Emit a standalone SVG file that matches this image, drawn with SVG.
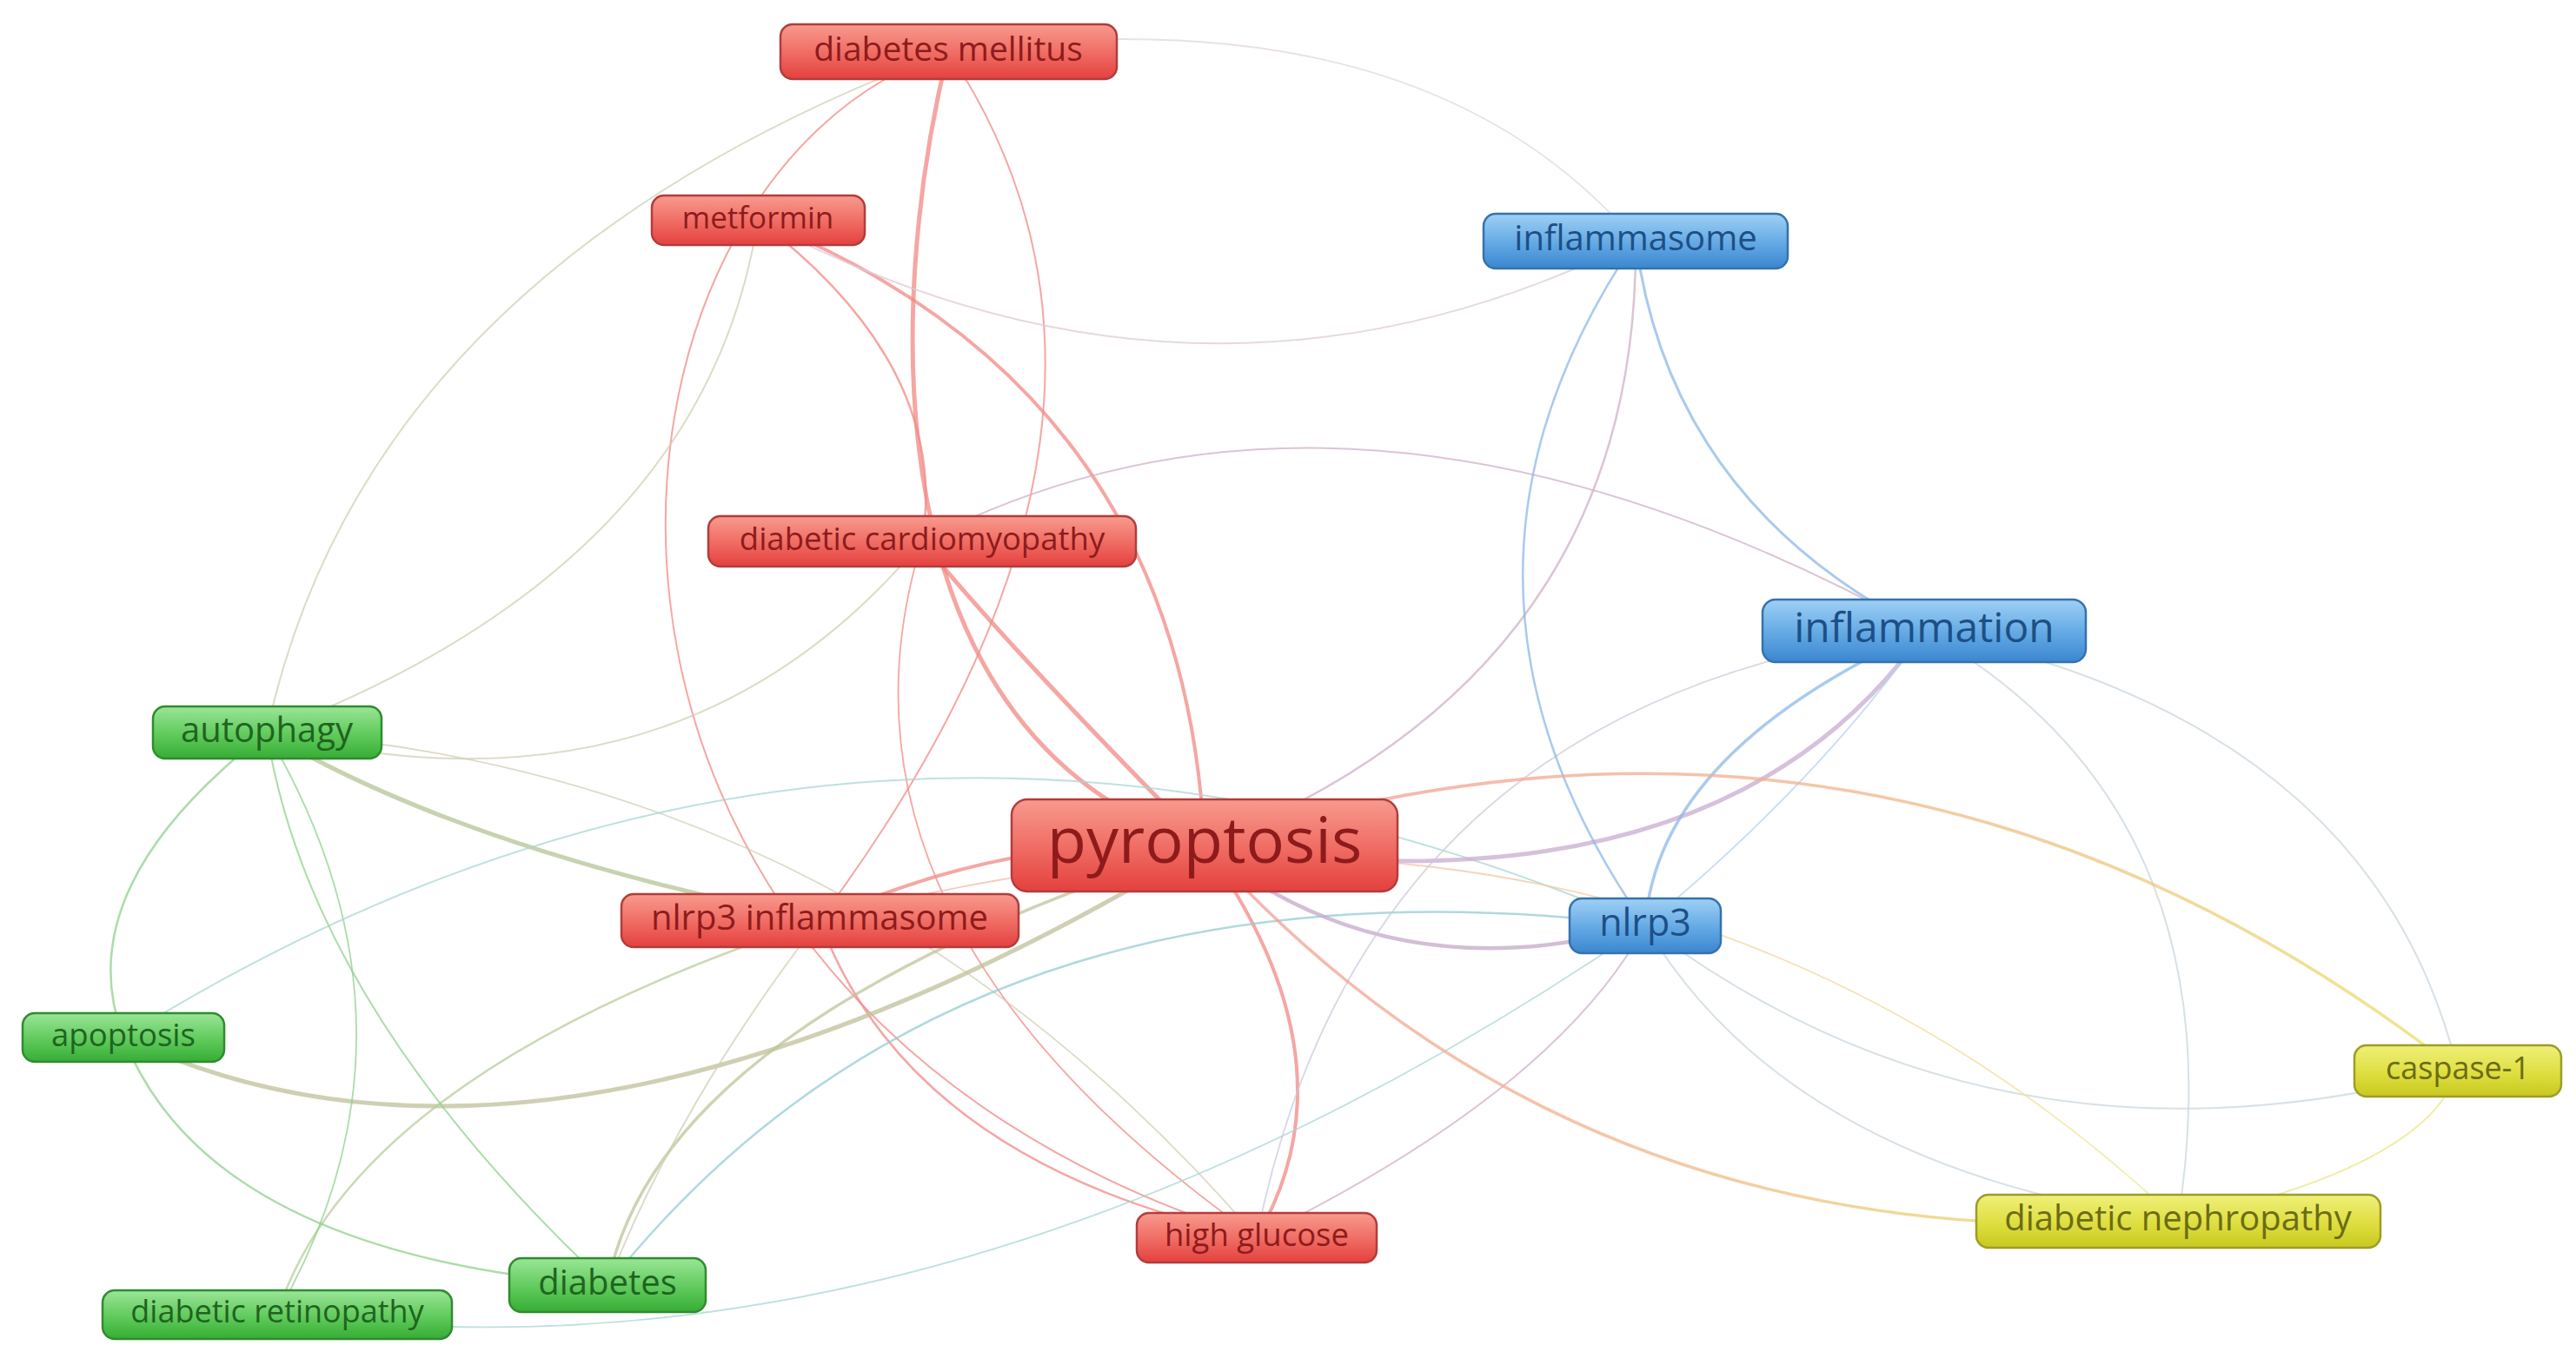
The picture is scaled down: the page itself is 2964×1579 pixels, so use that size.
<svg xmlns="http://www.w3.org/2000/svg" width="2964" height="1579" viewBox="0 0 2964 1579">
<defs>
<linearGradient id="gRed" x1="0" y1="0" x2="0" y2="1"><stop offset="0" stop-color="#f89a8e"/><stop offset="0.55" stop-color="#ef6a62"/><stop offset="1" stop-color="#e4403e"/></linearGradient>
<linearGradient id="gBlue" x1="0" y1="0" x2="0" y2="1"><stop offset="0" stop-color="#9fd0f5"/><stop offset="0.55" stop-color="#62a8e4"/><stop offset="1" stop-color="#3a86cf"/></linearGradient>
<linearGradient id="gGreen" x1="0" y1="0" x2="0" y2="1"><stop offset="0" stop-color="#9be597"/><stop offset="0.55" stop-color="#5fca5b"/><stop offset="1" stop-color="#36ad35"/></linearGradient>
<linearGradient id="gYellow" x1="0" y1="0" x2="0" y2="1"><stop offset="0" stop-color="#f0f07a"/><stop offset="0.55" stop-color="#dede40"/><stop offset="1" stop-color="#c8c81e"/></linearGradient>
<linearGradient id="gPC" gradientUnits="userSpaceOnUse" x1="1386" y1="973" x2="2828" y2="1232"><stop offset="0" stop-color="#f39a98"/><stop offset="0.5" stop-color="#f2b48a"/><stop offset="1" stop-color="#e6e268"/></linearGradient>
<linearGradient id="gPD" gradientUnits="userSpaceOnUse" x1="1386" y1="973" x2="2506" y2="1405"><stop offset="0" stop-color="#f39a98"/><stop offset="0.5" stop-color="#f2b48a"/><stop offset="1" stop-color="#e6e268"/></linearGradient>
<linearGradient id="gND" gradientUnits="userSpaceOnUse" x1="943" y1="1059" x2="2506" y2="1405"><stop offset="0" stop-color="#f4b0a8"/><stop offset="0.5" stop-color="#f2c8a0"/><stop offset="1" stop-color="#ecea90"/></linearGradient>
</defs>
<style>
.e{fill:none;stroke-linecap:round;stroke-opacity:0.75}
.r{stroke:#f28884}
.b{stroke:#8cb8e8}
.g{stroke:#8fd08c}
.y{stroke:#e8e680}
.rg{stroke:#d2cdb4}
.rb{stroke:#cfb0c8}
.gb{stroke:#a8d6d4}
.by{stroke:#cad6de}
.node rect{stroke-width:2.5}
.red rect{fill:url(#gRed);stroke:#b23c3c}
.blue rect{fill:url(#gBlue);stroke:#3572ab}
.green rect{fill:url(#gGreen);stroke:#2f8c2f}
.yellow rect{fill:url(#gYellow);stroke:#9c9c2a}
.node text{font-family:"Open Sans","Noto Sans","DejaVu Sans",sans-serif;text-anchor:middle}
.red text{fill:#8e1b1b}
.blue text{fill:#1d4f85}
.green text{fill:#1f641f}
.yellow text{fill:#6c6c14}
</style>
<rect x="0" y="0" width="2964" height="1579" fill="#ffffff"/>
<g id="edges">
<path id="e-dm-pyr" class="e r" stroke-width="5" d="M1091,59 C1020,350 1000,850 1386,973"/>
<path id="e-dcm-pyr" class="e r" stroke-width="5" d="M1061,623 Q1157,742 1386,973"/>
<path id="e-met-pyr" class="e r" stroke-width="4" d="M872,253 Q1361,447 1386,973"/>
<path id="e-met-dcm" class="e r" stroke-width="2.5" d="M872,253 Q1094,422 1061,623"/>
<path id="e-dm-nin" class="e r" stroke-width="2" d="M1091,59 Q1373,481 943,1059"/>
<path id="e-dm-hg" class="e r" stroke-width="2" d="M1091,59 C650,200 560,1150 1446,1424"/>
<path id="e-pyr-hg" class="e r" stroke-width="4" d="M1386,973 Q1564,1222 1446,1424"/>
<path id="e-nin-hg" class="e r" stroke-width="2.5" d="M943,1059 Q1046,1339 1446,1424"/>
<path id="e-dcm-hg" class="e r" stroke-width="1.8" d="M1061,623 Q927,1057 1446,1424"/>
<path id="e-pyr-nin" class="e r" stroke-width="4" d="M1386,973 Q1160,960 943,1059"/>
<path id="e-dm-aut" class="e rg" stroke-width="2" d="M1091,59 Q421,309 307,843"/>
<path id="e-met-aut" class="e rg" stroke-width="2" d="M872,253 Q810,652 307,843"/>
<path id="e-dcm-aut" class="e rg" stroke-width="2" d="M1061,623 Q780,960 307,843"/>
<path id="e-aut-nin" class="e rg" stroke-width="5" style="stroke:#b4c494" d="M307,843 Q535,979 943,1059"/>
<path id="e-aut-hg" class="e rg" stroke-width="1.8" d="M307,843 Q984,887 1446,1424"/>
<path id="e-apo-pyr" class="e rg" stroke-width="5" style="stroke:#bfc09a" d="M142,1194 Q636,1427 1386,973"/>
<path id="e-diab-pyr" class="e rg" stroke-width="3.5" style="stroke:#bcc49a" d="M699,1479 Q758,1174 1386,973"/>
<path id="e-diab-nin" class="e rg" stroke-width="2" d="M699,1479 Q780,1270 943,1059"/>
<path id="e-nin-dr" class="e rg" stroke-width="2.5" style="stroke:#b8cc9c" d="M943,1059 Q409,1234 319,1512"/>
<path id="e-aut-apo" class="e g" stroke-width="2.5" d="M307,843 Q76,1022 142,1194"/>
<path id="e-aut-diab" class="e g" stroke-width="2" d="M307,843 Q357,1159 699,1479"/>
<path id="e-aut-dr" class="e g" stroke-width="1.8" d="M307,843 Q507,1183 319,1512"/>
<path id="e-apo-diab" class="e g" stroke-width="2.5" d="M142,1194 Q240,1444 699,1479"/>
<path id="e-apo-nlrp3" class="e gb" stroke-width="2" d="M142,1194 Q983,670 1893,1065"/>
<path id="e-diab-nlrp3" class="e gb" stroke-width="2.5" style="stroke:#96ccd0" d="M699,1479 Q1104,968 1893,1065"/>
<path id="e-nlrp3-dr" class="e gb" stroke-width="1.8" d="M1893,1065 Q1094,1612 319,1512"/>
<path id="e-met-infs" class="e rb" stroke-width="2" style="stroke:#dccbd8" d="M872,253 Q1383,525 1882,277"/>
<path id="e-dm-infs" class="e rb" stroke-width="1.8" style="stroke:#e2d6e2" d="M1091,59 Q1634,-12 1882,277"/>
<path id="e-dcm-infl" class="e rb" stroke-width="2" d="M1061,623 Q1563,365 2214,726"/>
<path id="e-infs-pyr" class="e rb" stroke-width="2.5" d="M1882,277 Q1886,775 1386,973"/>
<path id="e-infl-pyr" class="e rb" stroke-width="5" style="stroke:#c8acd0" d="M2214,726 Q1980,1060 1386,973"/>
<path id="e-pyr-nlrp3" class="e rb" stroke-width="4.5" style="stroke:#c4a8c8" d="M1386,973 Q1600,1147 1893,1065"/>
<path id="e-infl-hg" class="e rb" stroke-width="1.8" style="stroke:#ccc8dc" d="M2214,726 Q1570,805 1446,1424"/>
<path id="e-nlrp3-hg" class="e rb" stroke-width="2" d="M1893,1065 Q1790,1255 1446,1424"/>
<path id="e-infs-infl" class="e b" stroke-width="3" d="M1882,277 Q1922,579 2214,726"/>
<path id="e-infs-nlrp3" class="e b" stroke-width="2.5" d="M1882,277 Q1617,669 1893,1065"/>
<path id="e-infl-nlrp3" class="e b" stroke-width="3.5" d="M2214,726 Q1907,865 1893,1065"/>
<path id="e-infl-nlrp3-b" class="e b" stroke-width="1.8" style="stroke:#b4d0ec" d="M2214,726 Q2097,895 1893,1065"/>
<path id="e-infl-casp" class="e by" stroke-width="2" d="M2214,726 Q2730,830 2828,1232"/>
<path id="e-infl-dn" class="e by" stroke-width="2" d="M2214,726 Q2580,934 2506,1405"/>
<path id="e-nlrp3-casp" class="e by" stroke-width="2" d="M1893,1065 Q2300,1372 2828,1232"/>
<path id="e-nlrp3-dn" class="e by" stroke-width="2" d="M1893,1065 Q2060,1345 2506,1405"/>
<path id="e-pyr-casp" class="e" stroke-width="3.5" stroke="url(#gPC)" d="M1386,973 Q2173,722 2828,1232"/>
<path id="e-pyr-dn" class="e" stroke-width="3.5" stroke="url(#gPD)" d="M1386,973 Q1814,1451 2506,1405"/>
<path id="e-nin-dn" class="e" stroke-width="1.8" stroke="url(#gND)" d="M943,1059 C1300,960 1950,880 2506,1405"/>
<path id="e-casp-dn" class="e y" stroke-width="2" d="M2828,1232 Q2793,1342 2506,1405"/>
</g>
<g id="n-diabetes-mellitus" class="node red"><rect x="898" y="28" width="387" height="63" rx="14"/><text x="1091" y="70" font-size="39">diabetes mellitus</text></g>
<g id="n-metformin" class="node red"><rect x="750" y="225" width="245" height="57" rx="14"/><text x="872" y="263" font-size="35">metformin</text></g>
<g id="n-inflammasome" class="node blue"><rect x="1707" y="246" width="350" height="63" rx="14"/><text x="1882" y="288" font-size="40">inflammasome</text></g>
<g id="n-diabetic-cardiomyopathy" class="node red"><rect x="815" y="594" width="492" height="58" rx="14"/><text x="1061" y="633" font-size="36.5">diabetic cardiomyopathy</text></g>
<g id="n-inflammation" class="node blue"><rect x="2028" y="690" width="372" height="72" rx="15"/><text x="2214" y="739" font-size="48">inflammation</text></g>
<g id="n-autophagy" class="node green"><rect x="176" y="813" width="263" height="60" rx="14"/><text x="307" y="854" font-size="40">autophagy</text></g>
<g id="n-pyroptosis" class="node red"><rect x="1164" y="920" width="444" height="106" rx="18"/><text x="1386" y="993" font-size="74">pyroptosis</text></g>
<g id="n-nlrp3-inflammasome" class="node red"><rect x="715" y="1029" width="457" height="61" rx="14"/><text x="943" y="1070" font-size="40">nlrp3 inflammasome</text></g>
<g id="n-nlrp3" class="node blue"><rect x="1806" y="1034" width="174" height="63" rx="14"/><text x="1893" y="1077" font-size="43">nlrp3</text></g>
<g id="n-apoptosis" class="node green"><rect x="26" y="1166" width="232" height="56" rx="14"/><text x="142" y="1204" font-size="36.5">apoptosis</text></g>
<g id="n-caspase-1" class="node yellow"><rect x="2709" y="1203" width="238" height="59" rx="14"/><text x="2828" y="1242" font-size="36">caspase-1</text></g>
<g id="n-diabetic-nephropathy" class="node yellow"><rect x="2274" y="1375" width="465" height="61" rx="14"/><text x="2506" y="1416" font-size="40">diabetic nephropathy</text></g>
<g id="n-high-glucose" class="node red"><rect x="1308" y="1396" width="276" height="57" rx="14"/><text x="1446" y="1434" font-size="36.5">high glucose</text></g>
<g id="n-diabetes" class="node green"><rect x="586" y="1448" width="226" height="62" rx="14"/><text x="699" y="1490" font-size="40">diabetes</text></g>
<g id="n-diabetic-retinopathy" class="node green"><rect x="118" y="1485" width="402" height="56" rx="14"/><text x="319" y="1522" font-size="36">diabetic retinopathy</text></g>
</svg>
